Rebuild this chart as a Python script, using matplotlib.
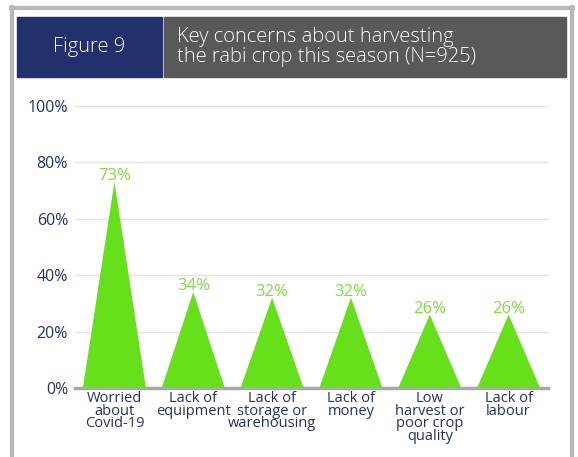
import matplotlib
matplotlib.use('Agg')
import matplotlib.pyplot as plt
from matplotlib.patches import Rectangle
from matplotlib.lines import Line2D

categories = ['Worried\nabout\nCovid-19', 'Lack of\nequipment', 'Lack of\nstorage or\nwarehousing',
              'Lack of\nmoney', 'Low\nharvest or\npoor crop\nquality', 'Lack of\nlabour']
values = [73, 34, 32, 32, 26, 26]
yticks = [0, 20, 40, 60, 80, 100]

NAVY = '#22306b'
GREEN = '#66e01a'
LABEL_GREEN = '#7ddf40'
plt.rcParams['font.family'] = ['Open Sans', 'DejaVu Sans']

W, H = 578, 457
fig = plt.figure(figsize=(W / 100, H / 100), dpi=100)

# ── FRAME + HEADER ───────────────────────────────────────────────────────────
def fx(px):
    return px / W

def fy(py):
    return 1 - py / H

fig.add_artist(Line2D([fx(12), fx(12)], [fy(7), fy(457)], color='#b9b9b9', lw=3))
fig.add_artist(Line2D([fx(572), fx(572)], [fy(7), fy(457)], color='#b9b9b9', lw=3))
fig.add_artist(Line2D([fx(11), fx(573)], [fy(8), fy(8)], color='#b9b9b9', lw=3))

fig.add_artist(Rectangle((fx(17), fy(77)), fx(145), 60 / H, color=NAVY))
fig.add_artist(Rectangle((fx(164), fy(77)), fx(402), 60 / H, color='#58595b'))
fig.text(fx(89), fy(47), 'Figure 9', color='white', fontsize=14.5,
         fontweight='light', ha='center', va='center')
fig.text(fx(177), fy(47), 'Key concerns about harvesting\nthe rabi crop this season (N=925)',
         color='white', fontsize=14.5, fontweight='light', ha='left', va='center',
         linespacing=1.0)

# ── CHART ────────────────────────────────────────────────────────────────────
ax = fig.add_axes([fx(75), (H - 388) / H, 473 / W, 282.3 / H])
for i, v in enumerate(values):
    ax.fill([i - 0.4, i, i + 0.4], [0, v, 0], color=GREEN, lw=0, zorder=3)
    ax.annotate(f'{v}%', (i, v), xytext=(0, -1.5), textcoords='offset points',
                ha='center', va='bottom', color=LABEL_GREEN, fontsize=12)

ax.set_xlim(-0.5, 5.5)
ax.set_ylim(0, 100)
ax.set_yticks(yticks)
ax.set_yticklabels([f'{t}%' for t in yticks], fontsize=11.5)
ax.set_xticks(range(len(categories)))
ax.set_xticklabels(categories, linespacing=0.8, fontsize=10.5)
ax.tick_params(length=0, colors=NAVY)
ax.tick_params(axis='x', pad=2)
ax.tick_params(axis='y', pad=5)
ax.grid(axis='y', color='#e2e2e2', lw=1)
ax.set_axisbelow(True)
for s in ['top', 'right', 'left']:
    ax.spines[s].set_visible(False)
ax.spines['bottom'].set_color('#a8a8a8')
ax.spines['bottom'].set_linewidth(2.5)
ax.spines['bottom'].set_zorder(4)

plt.savefig('out.png', dpi=100)
